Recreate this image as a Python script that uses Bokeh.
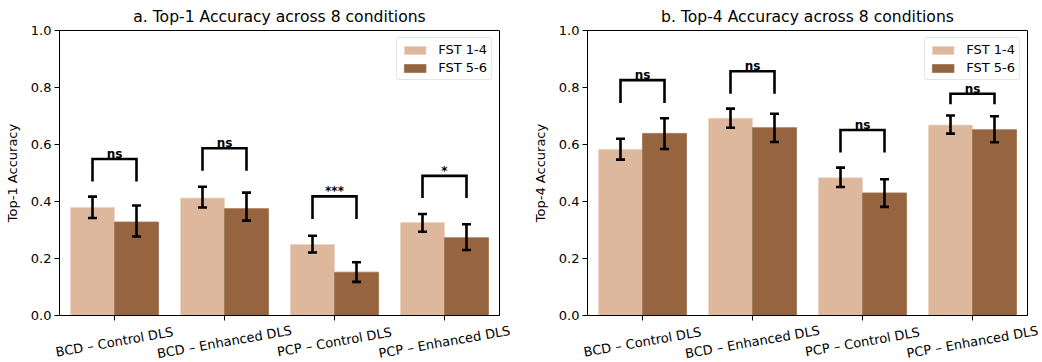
from bokeh.plotting import figure
from bokeh.models import (ColumnDataSource, FixedTicker, Legend, LegendItem,
                          Whisker, TeeHead, Range1d)
from bokeh.layouts import row, column
from bokeh.embed import file_html
from bokeh.resources import INLINE
from bokeh.core.properties import value

# ---------------- data ----------------
conditions = ["BCD \u2013 Control DLS", "BCD \u2013 Enhanced DLS",
              "PCP \u2013 Control DLS", "PCP \u2013 Enhanced DLS"]
groups = ["FST 1-4", "FST 5-6"]

top1_fst14 = [0.379, 0.412, 0.249, 0.326]
top1_fst56 = [0.328, 0.375, 0.152, 0.273]
top1_fst14_lo = [0.342, 0.379, 0.221, 0.294]
top1_fst14_hi = [0.417, 0.452, 0.280, 0.356]
top1_fst56_lo = [0.277, 0.333, 0.118, 0.230]
top1_fst56_hi = [0.386, 0.431, 0.187, 0.320]
top1_bracket_top = [0.549, 0.587, 0.418, 0.490]
top1_bracket_leg = [0.470, 0.508, 0.339, 0.412]
top1_sig = ["ns", "ns", "***", "*"]

top4_fst14 = [0.583, 0.692, 0.483, 0.668]
top4_fst56 = [0.639, 0.659, 0.430, 0.652]
top4_fst14_lo = [0.547, 0.659, 0.451, 0.638]
top4_fst14_hi = [0.620, 0.726, 0.519, 0.702]
top4_fst56_lo = [0.584, 0.609, 0.381, 0.608]
top4_fst56_hi = [0.692, 0.708, 0.478, 0.699]
top4_bracket_top = [0.826, 0.857, 0.651, 0.778]
top4_bracket_leg = [0.746, 0.778, 0.572, 0.741]
top4_sig = ["ns", "ns", "ns", "ns"]

y_ticks = [0.0, 0.2, 0.4, 0.6, 0.8, 1.0]

LIGHT = "#DDB89C"
DARK = "#96643E"
FONT = "DejaVu Sans"
BAR_W = 0.4

MAIN_H = 322       # height of the bar-chart figure
LAB_H = 40         # height of the strip holding the rotated category labels
X_START, X_END = -0.5, 3.5


def make_panel(title, ylabel, v1, v2, lo1, hi1, lo2, hi2, btop, bleg, sig,
               width, border_left, border_right):
    p = figure(width=width, height=MAIN_H, output_backend="svg",
               toolbar_location=None, x_range=Range1d(X_START, X_END),
               y_range=Range1d(0, 1.0), min_border_left=border_left,
               min_border_right=border_right, min_border_top=29,
               min_border_bottom=7)
    p.title.text = title
    p.title.align = "center"
    p.title.text_font = FONT
    p.title.text_font_size = "15.6px"
    p.title.text_font_style = "normal"
    p.title.text_color = "#000000"

    xs = list(range(len(conditions)))
    x1 = [x - BAR_W / 2 for x in xs]
    x2 = [x + BAR_W / 2 for x in xs]

    s1 = ColumnDataSource(dict(x=x1, top=v1, lo=lo1, hi=hi1))
    s2 = ColumnDataSource(dict(x=x2, top=v2, lo=lo2, hi=hi2))
    r1 = p.vbar(x="x", top="top", width=BAR_W, source=s1, fill_color=LIGHT,
                line_color="#EAD3C2", line_width=0.8)
    r2 = p.vbar(x="x", top="top", width=BAR_W, source=s2, fill_color=DARK,
                line_color="#A07350", line_width=0.8)

    for s in (s1, s2):
        w = Whisker(base="x", lower="lo", upper="hi", source=s,
                    line_color="black", line_width=2.6, level="overlay",
                    upper_head=TeeHead(size=9, line_width=2.6, line_color="black"),
                    lower_head=TeeHead(size=9, line_width=2.6, line_color="black"))
        p.add_layout(w)

    bxs = [[a, a, b, b] for a, b in zip(x1, x2)]
    bys = [[l, t, t, l] for t, l in zip(btop, bleg)]
    p.multi_line(xs=bxs, ys=bys, line_color="black", line_width=2.6,
                 line_join="miter")
    # small gap above the bracket line
    gap = 5.0 / (MAIN_H - 29 - 7)
    p.text(x=xs, y=[t + gap for t in btop], text=sig, text_font=value(FONT),
           text_font_style="bold", text_font_size="12px",
           text_align="center", text_baseline="alphabetic",
           text_color="black")

    # axes styling
    p.xgrid.visible = False
    p.ygrid.visible = False
    p.outline_line_color = "black"
    p.outline_line_width = 1
    p.outline_line_alpha = 1

    p.xaxis.ticker = FixedTicker(ticks=xs)
    p.xaxis.major_label_overrides = {i: "" for i in xs}
    p.xaxis.major_label_text_font_size = "0px"
    p.xaxis.major_label_standoff = 0
    p.yaxis.ticker = FixedTicker(ticks=y_ticks)
    p.yaxis.major_label_overrides = {t: f"{t:.1f}" for t in y_ticks}
    p.yaxis.major_label_text_font_size = "13px"
    p.yaxis.major_label_standoff = 3
    p.yaxis.axis_label = ylabel
    for ax in (p.xaxis[0], p.yaxis[0]):
        ax.axis_line_color = "black"
        ax.axis_line_width = 1
        ax.major_tick_line_color = "black"
        ax.major_tick_out = 5
        ax.major_tick_in = 0
        ax.minor_tick_line_color = None
        ax.major_label_text_font = FONT
        ax.major_label_text_color = "black"
        ax.axis_label_text_font = FONT
        ax.axis_label_text_font_size = "13px"
        ax.axis_label_text_font_style = "normal"
        ax.axis_label_text_color = "black"
    p.yaxis.axis_label_standoff = 8

    legend = Legend(items=[LegendItem(label=groups[0], renderers=[r1]),
                           LegendItem(label=groups[1], renderers=[r2])],
                    location="top_right", margin=7, padding=4, spacing=3,
                    label_height=14, glyph_height=10, glyph_width=27,
                    label_standoff=10, label_text_font=FONT,
                    label_text_font_size="13px", label_text_color="black",
                    border_line_color="#cccccc", border_line_width=1,
                    background_fill_alpha=0.85)
    try:
        legend.border_radius = 3
    except AttributeError:
        pass
    p.add_layout(legend)

    # strip below the frame with category labels rotated 10 deg, centred on ticks
    frame_w = width - border_left - border_right
    ppu = frame_w / (X_END - X_START)
    lab = figure(width=width, height=LAB_H, output_backend="svg",
                 toolbar_location=None, x_axis_location=None,
                 y_axis_location=None, min_border=0,
                 x_range=Range1d(X_START - border_left / ppu,
                                 X_END + border_right / ppu),
                 y_range=Range1d(0, LAB_H))
    try:
        lab.frame_align = False
    except AttributeError:
        pass
    lab.outline_line_color = None
    lab.xgrid.visible = False
    lab.ygrid.visible = False
    lab.text(x=xs, y=[LAB_H - 19.5] * len(xs), text=conditions,
             angle=0.1745, text_font=value(FONT), text_font_size="13px",
             text_align="center", text_baseline="middle", text_color="black")
    return column(p, lab, spacing=0)


p1 = make_panel("a. Top-1 Accuracy across 8 conditions", "Top-1 Accuracy",
                top1_fst14, top1_fst56, top1_fst14_lo, top1_fst14_hi,
                top1_fst56_lo, top1_fst56_hi, top1_bracket_top,
                top1_bracket_leg, top1_sig, 521, 59, 22)
p2 = make_panel("b. Top-4 Accuracy across 8 conditions", "Top-4 Accuracy",
                top4_fst14, top4_fst56, top4_fst14_lo, top4_fst14_hi,
                top4_fst56_lo, top4_fst56_hi, top4_bracket_top,
                top4_bracket_leg, top4_sig, 521, 66, 15)

layout = row(p1, p2, spacing=0)
open("out.html", "w").write(file_html(layout, INLINE))
